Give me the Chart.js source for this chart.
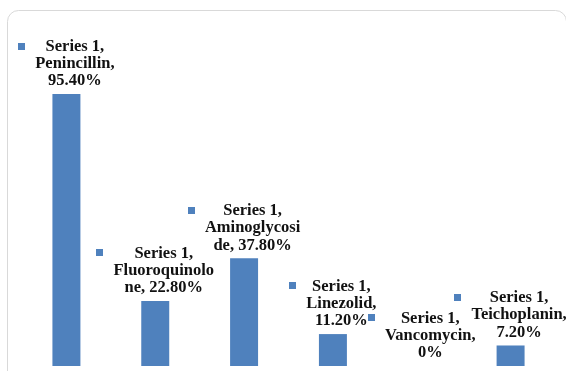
<!DOCTYPE html>
<html>
<head>
<meta charset="utf-8">
<script src="https://cdn.jsdelivr.net/npm/chart.js@4/dist/chart.umd.min.js"></script>
<style>
  html, body { margin: 0; padding: 0; background: #ffffff; }
  #wrap { width: 566px; height: 371px; position: relative; }
</style>
</head>
<body>
<div id="wrap"><canvas id="chart" width="566" height="371"></canvas></div>
<script>
// Antibiotic resistance, percentage per drug
const seriesName = 'Series 1';
const categories = ['Penincillin', 'Fluoroquinolone', 'Aminoglycoside', 'Linezolid', 'Vancomycin', 'Teichoplanin'];
const values = [95.4, 22.8, 37.8, 11.2, 0, 7.2];

const BAR_COLOR = '#4F81BD';
const LABEL_FONT = 'bold 16.5px "Liberation Serif", "Times New Roman", serif';
const LABEL_MAX_WIDTH = 102.5;
const LINE_HEIGHT = 17.3;

function formatPct(v) {
  return v === 0 ? '0%' : v.toFixed(2) + '%';
}

// Greedy word wrap; words longer than the width are split by characters
function wrapText(ctx, text, maxW) {
  const words = text.split(' ');
  const lines = [];
  let cur = '';
  for (const w of words) {
    const trial = cur ? cur + ' ' + w : w;
    if (ctx.measureText(trial).width <= maxW) { cur = trial; continue; }
    if (cur) lines.push(cur);
    if (ctx.measureText(w).width <= maxW) { cur = w; continue; }
    let piece = '';
    for (const ch of w) {
      if (ctx.measureText(piece + ch).width <= maxW) piece += ch;
      else { lines.push(piece); piece = ch; }
    }
    cur = piece;
  }
  if (cur) lines.push(cur);
  return lines;
}

// Rounded light frame around the chart (right and bottom edges run off the canvas)
const framePlugin = {
  id: 'frame',
  beforeDraw(chart) {
    const ctx = chart.ctx;
    const x = 7.5, y = 10.5, w = 559, h = 380, r = 11;
    ctx.save();
    ctx.fillStyle = '#ffffff';
    ctx.fillRect(0, 0, chart.width, chart.height);
    ctx.strokeStyle = '#d9d9d9';
    ctx.lineWidth = 1;
    ctx.beginPath();
    ctx.moveTo(x + r, y);
    ctx.lineTo(x + w - r, y);
    ctx.arcTo(x + w, y, x + w, y + r, r);
    ctx.lineTo(x + w, y + h);
    ctx.moveTo(x, y + h);
    ctx.lineTo(x, y + r);
    ctx.arcTo(x, y, x + r, y, r);
    ctx.stroke();
    ctx.restore();
  }
};

// Data labels with legend key: "Series 1, Category, value"
const labelPlugin = {
  id: 'keyLabels',
  afterDatasetsDraw(chart) {
    const ctx = chart.ctx;
    const meta = chart.getDatasetMeta(0);
    ctx.save();
    ctx.font = LABEL_FONT;
    ctx.textAlign = 'center';
    ctx.textBaseline = 'middle';
    meta.data.forEach((bar, i) => {
      const text = seriesName + ', ' + categories[i] + ', ' + formatPct(values[i]);
      const lines = wrapText(ctx, text, LABEL_MAX_WIDTH);
      const textW = Math.max(...lines.map(l => ctx.measureText(l).width));
      const keySize = 7, gap = 10;
      const blockW = keySize + gap + textW;
      const left = bar.x - blockW / 2;
      const lastY = bar.y - 13;
      const firstY = lastY - (lines.length - 1) * LINE_HEIGHT;
      ctx.fillStyle = BAR_COLOR;
      ctx.fillRect(Math.round(left), Math.round(firstY - 4), keySize, keySize);
      ctx.fillStyle = '#111111';
      const cx = left + keySize + gap + textW / 2;
      lines.forEach((l, k) => ctx.fillText(l, cx, firstY + k * LINE_HEIGHT));
    });
    ctx.restore();
  }
};

new Chart(document.getElementById('chart'), {
  type: 'bar',
  data: {
    labels: categories,
    datasets: [{
      label: seriesName,
      data: values,
      backgroundColor: BAR_COLOR,
      borderWidth: 0,
      categoryPercentage: 1,
      barPercentage: 0.315
    }]
  },
  options: {
    responsive: false,
    animation: false,
    layout: { padding: { left: 22, right: 11, top: 81, bottom: 5 } },
    plugins: { legend: { display: false }, tooltip: { enabled: false } },
    scales: {
      x: { display: false },
      y: { display: false, min: 0, max: 100 }
    }
  },
  plugins: [framePlugin, labelPlugin]
});
</script>
</body>
</html>
